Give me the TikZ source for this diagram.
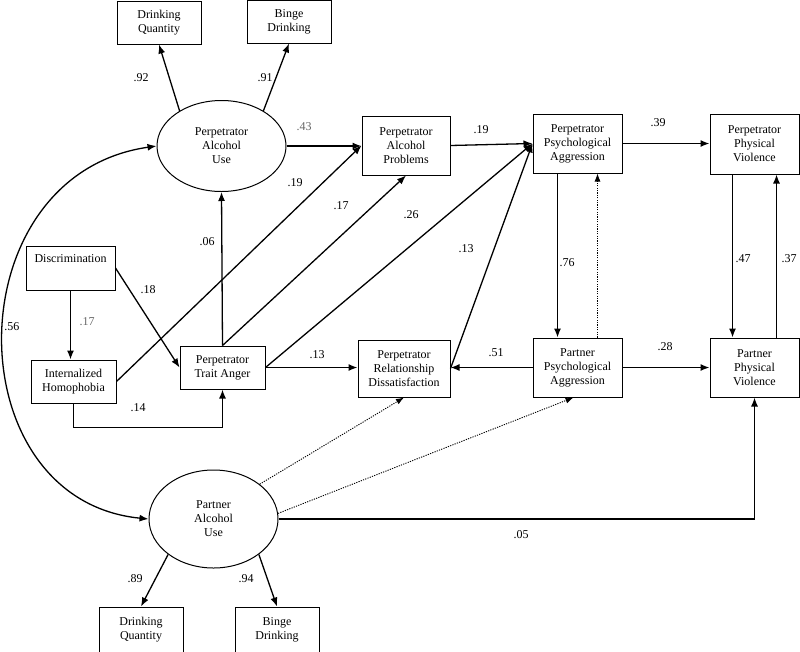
\documentclass[tikz,border=0pt]{standalone}
\usepackage{fontspec}
\setmainfont{Liberation Serif}
\usetikzlibrary{arrows.meta,shapes.geometric,calc}
\begin{document}
\begin{tikzpicture}[x=1pt,y=-1pt,
  font=\fontsize{12}{14}\selectfont,
  box/.style={draw,line width=1pt,fill=white,align=center,inner sep=0pt},
  lat/.style={draw,ellipse,line width=1pt,align=center,inner sep=0pt,minimum width=129pt},
  arr/.style={line width=1.3pt,-{Latex[length=9pt,width=7pt]}},
  dotarr/.style={line width=0.9pt,dash pattern=on 1.2pt off 1.2pt,-{Latex[length=8pt,width=6pt]}},
  coef/.style={inner sep=0pt},
  graycoef/.style={inner sep=0pt,text=black!60}]
\useasboundingbox (0,0) rectangle (800,651);
% measurement boxes
\node[box,minimum width=84pt,minimum height=43pt] (dq1) at (159,22.5) {Drinking\\Quantity};
\node[box,minimum width=84pt,minimum height=43pt] (bd1) at (289,21.5) {Binge\\Drinking};
\node[lat,minimum height=91pt] (pau) at (221.5,146) {Perpetrator\\Alcohol\\Use};
\node[box,minimum width=88pt,minimum height=59pt] (pap) at (406,145.5) {Perpetrator\\Alcohol\\Problems};
\node[box,minimum width=89pt,minimum height=59pt] (ppa) at (577.5,143.5) {Perpetrator\\Psychological\\Aggression};
\node[box,minimum width=89pt,minimum height=60pt] (ppv) at (754.5,144) {Perpetrator\\Physical\\Violence};
\node[box,minimum width=89pt,minimum height=44pt] (disc) at (70.5,268) {Discrimination\\\strut};
\node[box,minimum width=85pt,minimum height=43pt] (ih) at (73.5,381.5) {Internalized\\Homophobia};
\node[box,minimum width=85pt,minimum height=43pt] (pta) at (222.5,367.5) {Perpetrator\\Trait Anger};
\node[box,minimum width=92pt,minimum height=57pt] (prd) at (404,368.5) {Perpetrator\\Relationship\\Dissatisfaction};
\node[box,minimum width=89pt,minimum height=59pt] (ptpa) at (577.5,367.5) {Partner\\Psychological\\Aggression};
\node[box,minimum width=89pt,minimum height=59pt] (ptpv) at (754.5,367.5) {Partner\\Physical\\Violence};
\node[lat,minimum height=98pt] (tau) at (213.5,519) {Partner\\Alcohol\\Use};
\node[box,minimum width=84pt,minimum height=45pt] (dq2) at (141,629.5) {Drinking\\Quantity};
\node[box,minimum width=84pt,minimum height=45pt] (bd2) at (277,629.5) {Binge\\Drinking};
% connectors
\draw[arr] (pau.140) -- (dq1.south);
\draw[arr] (pau.40) -- (bd1.south);
\draw[arr] (pau.east) -- (pau.east -| pap.west);
\draw[arr] (ih.east) -- (pap.west);
\draw[arr] (pta.north) -- (pap.south);
\draw[arr] (pta.north) -- (pau.south);
\draw[arr] (pta.east) -- (ppa.west);
\draw[arr] (pta.east) -- (pta.east -| prd.west);
\draw[arr] (disc.south) -- (disc.south |- ih.north);
\draw[arr] (disc.east) -- (pta.west);
\draw[arr] (ih.south) -- ++(0,24) -| (pta.south);
\draw[arr] (pap.east) -- (ppa.west);
\draw[arr] (prd.east) -- (ppa.west);
\draw[arr] (ppa.east) -- (ppa.east -| ppv.west);
\coordinate (c76) at ($(ppa.south west)+(25,0)$);
\draw[arr] (c76) -- (c76 |- ptpa.north);
\coordinate (cdot) at ($(ptpa.north west)+(65,0)$);
\draw[dotarr] (cdot) -- (cdot |- ppa.south);
\coordinate (c47) at ($(ppv.south west)+(23,0)$);
\draw[arr] (c47) -- (c47 |- ptpv.north);
\coordinate (c37) at ($(ptpv.north west)+(67,0)$);
\draw[arr] (c37) -- (c37 |- ppv.south);
\draw[arr] (ptpa.west) -- (ptpa.west -| prd.east);
\draw[arr] (ptpa.east) -- (ptpa.east -| ptpv.west);
\draw[line width=1.3pt,{Latex[length=9pt,width=7pt]}-{Latex[length=9pt,width=7pt]}] (pau.west) .. controls (-46,175) and (-46,500) .. (tau.west);
\draw[arr] (tau.218) -- (dq2.north);
\draw[arr] (tau.322) -- (bd2.north);
\draw[dotarr] (tau.37) -- (prd.south);
\draw[dotarr] (tau.5) -- ($(ptpa.south)+(-4,0)$);
\draw[arr] (tau.east) -| (ptpv.south);
% coefficients
\node[coef] (l92) at (141,78) {.92};
\node[coef] (l91) at (265,78) {.91};
\node[graycoef] (l43) at (304,127) {.43};
\node[coef] (l19a) at (295,183) {.19};
\node[coef] (l17a) at (341,206) {.17};
\node[coef] (l06) at (207,242) {.06};
\node[coef] (l26) at (411,215) {.26};
\node[coef] (l13a) at (466,249) {.13};
\node[coef] (l19b) at (481,130) {.19};
\node[coef] (l39) at (658,123) {.39};
\node[coef] (l18) at (148,290) {.18};
\node[graycoef] (l17b) at (87,322) {.17};
\node[coef] (l56) at (12,327) {.56};
\node[coef] (l14) at (138,408) {.14};
\node[coef] (l13b) at (317,355) {.13};
\node[coef] (l76) at (567,263) {.76};
\node[coef] (l47) at (743,259) {.47};
\node[coef] (l37) at (789,259) {.37};
\node[coef] (l51) at (496,353) {.51};
\node[coef] (l28) at (665,347) {.28};
\node[coef] (l05) at (521,535) {.05};
\node[coef] (l89) at (135,579) {.89};
\node[coef] (l94) at (246,579) {.94};
\end{tikzpicture}
\end{document}
